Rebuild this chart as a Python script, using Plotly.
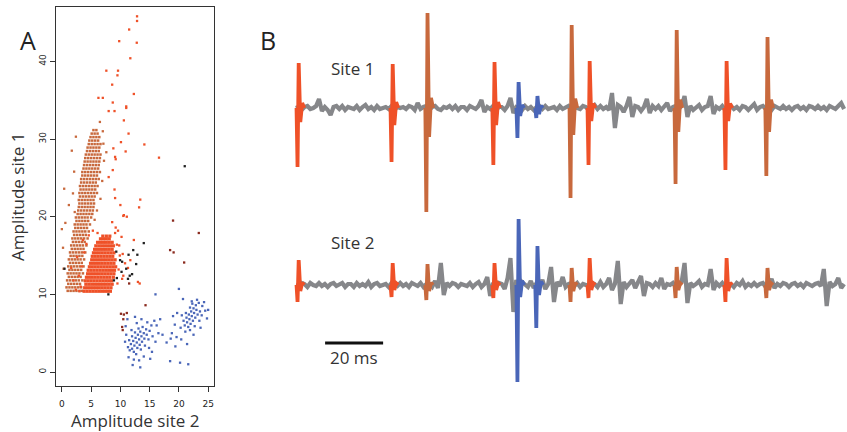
import plotly.graph_objects as go

# ---------------- Panel A data (amplitudes) ----------------
# dense orange-red cluster, row by row (y level -> x values)
red_rows_y = [10.4, 10.85, 11.3, 11.75, 12.2, 12.65, 13.1, 13.55, 14.0, 14.45,
              14.9, 15.35, 15.8, 16.25, 16.7, 17.15, 17.5]
red_rows_x = [
    [3.8, 4.3, 4.8, 5.3, 5.8, 6.3, 6.8, 7.3, 7.8, 8.3],
    [3.9, 4.4, 4.9, 5.4, 5.9, 6.4, 6.9, 7.4, 7.9, 8.4],
    [4.1, 4.6, 5.1, 5.6, 6.1, 6.6, 7.1, 7.6, 8.1, 8.6],
    [4.0, 4.5, 5.0, 5.5, 6.0, 6.5, 7.0, 7.5, 8.0, 8.5],
    [4.2, 4.7, 5.2, 5.7, 6.2, 6.7, 7.2, 7.7, 8.2, 8.8],
    [4.4, 4.9, 5.4, 5.9, 6.4, 6.9, 7.4, 7.9, 8.4, 8.9],
    [4.5, 5.0, 5.5, 6.0, 6.5, 7.0, 7.5, 8.0, 8.5, 9.0],
    [4.7, 5.2, 5.7, 6.2, 6.7, 7.2, 7.7, 8.2, 8.7, 9.2],
    [4.9, 5.4, 5.9, 6.4, 6.9, 7.4, 7.9, 8.4, 8.9],
    [5.1, 5.6, 6.1, 6.6, 7.1, 7.6, 8.1, 8.6, 9.1],
    [5.2, 5.7, 6.2, 6.7, 7.2, 7.7, 8.2, 8.7],
    [5.4, 5.9, 6.4, 6.9, 7.4, 7.9, 8.4, 8.9],
    [5.6, 6.1, 6.6, 7.1, 7.6, 8.1, 8.6],
    [5.8, 6.3, 6.8, 7.3, 7.8, 8.3, 8.8],
    [6.1, 6.6, 7.1, 7.6, 8.1, 8.6],
    [6.6, 7.1, 7.6, 8.1],
    [7.0, 7.6, 8.2],
]
red_sparse_x = [3.2, 2.9, 3.4, 2.6, 3.8, 4.2, 4.6, 5.3, 6.1, 9.4, 9.7, 9.5, 9.9, 10.3, 9.1,
                3.0, 2.4, 2.0, 1.6, 3.6, 10.4, 10.8, 11.3, 10.5, 11.7, 13.3, 13.0, 9.2, 8.6,
                10.6, 11.1, 10.5, 9.0, 9.1, 13.4, 13.2, 8.0, 8.7, 9.1, 9.2, 8.8, 10.9, 10.1,
                14.1, 16.6, 11.4, 10.6, 8.0, 9.0, 11.0, 11.0, 8.7, 12.3, 6.25, 7.0, 8.6, 7.6,
                9.6, 9.5, 11.7, 9.8, 12.8, 11.5, 12.85, 12.85, 10.0, 12.3, 9.8, 10.2, 9.6]
red_sparse_y = [11.0, 12.4, 13.6, 14.8, 15.4, 16.5, 17.6, 18.2, 17.9, 16.4, 13.2, 11.4, 15.0, 12.0, 17.9,
                10.4, 10.6, 11.8, 13.4, 17.0, 15.2, 14.0, 13.4, 12.4, 14.4, 11.4, 11.6, 18.6, 19.3,
                20.2, 20.0, 20.1, 23.5, 22.4, 22.2, 21.2, 25.1, 26.0, 27.7, 27.4, 28.8, 28.4, 29.6,
                29.3, 27.6, 30.7, 32.4, 33.6, 33.6, 34.2, 34.0, 34.7, 35.8, 35.3, 35.3, 37.0, 38.8,
                38.8, 38.2, 40.4, 42.6, 42.4, 44.1, 45.8, 45.2, 21.5, 17.0, 16.3, 17.4, 18.2]

# brown elongated cluster, row by row
brown_rows_y = [10.45, 10.9, 11.35, 11.8, 12.25, 12.7, 13.15, 13.6, 14.05, 14.5, 14.95, 15.4,
                15.85, 16.3, 16.75, 17.2, 17.65, 18.1, 18.55, 19.0, 19.45, 19.9, 20.35, 20.8,
                21.25, 21.7, 22.15, 22.6, 23.05, 23.5, 23.95, 24.4, 24.85, 25.3, 25.75, 26.2,
                26.65, 27.1, 27.55, 28.0, 28.45, 28.9, 29.35, 29.8, 30.25, 30.7, 31.15]
brown_rows_x = [
    [1.0, 1.5, 2.0, 2.5, 3.0, 3.4], [0.8, 1.3, 1.8, 2.3, 2.8, 3.3], [1.1, 1.6, 2.1, 2.6, 3.1],
    [0.9, 1.4, 1.9, 2.4, 2.9, 3.5], [1.2, 1.7, 2.2, 2.7, 3.2], [1.0, 1.5, 2.0, 2.5, 3.0, 3.6],
    [1.3, 1.8, 2.3, 2.8, 3.3], [1.1, 1.6, 2.1, 2.6, 3.1, 3.7], [1.4, 1.9, 2.4, 2.9, 3.4],
    [1.2, 1.7, 2.2, 2.7, 3.2, 3.8], [1.5, 2.0, 2.5, 3.0, 3.5], [1.4, 1.9, 2.4, 2.9, 3.4, 4.0],
    [1.7, 2.2, 2.7, 3.2, 3.7], [1.6, 2.1, 2.6, 3.1, 3.6, 4.2], [1.9, 2.4, 2.9, 3.4, 3.9],
    [1.8, 2.3, 2.8, 3.3, 3.8, 4.4], [2.1, 2.6, 3.1, 3.6, 4.1], [2.0, 2.5, 3.0, 3.5, 4.0, 4.6],
    [2.3, 2.8, 3.3, 3.8, 4.3], [2.2, 2.7, 3.2, 3.7, 4.2, 4.8], [2.5, 3.0, 3.5, 4.0, 4.5],
    [2.4, 2.9, 3.4, 3.9, 4.4, 5.0], [2.7, 3.2, 3.7, 4.2, 4.7, 5.2], [2.8, 3.3, 3.8, 4.3, 4.8, 5.3],
    [2.9, 3.4, 3.9, 4.4, 4.9, 5.4], [3.0, 3.5, 4.0, 4.5, 5.0, 5.5], [2.9, 3.4, 3.9, 4.4, 4.9, 5.4],
    [3.1, 3.6, 4.1, 4.6, 5.1, 5.6], [3.0, 3.5, 4.0, 4.5, 5.0, 5.5, 6.0], [3.2, 3.7, 4.2, 4.7, 5.2, 5.7],
    [3.1, 3.6, 4.1, 4.6, 5.1, 5.6, 6.1], [3.3, 3.8, 4.3, 4.8, 5.3, 5.8],
    [3.3, 3.8, 4.3, 4.8, 5.3, 5.8, 6.3], [3.5, 4.0, 4.5, 5.0, 5.5, 6.0],
    [3.5, 4.0, 4.5, 5.0, 5.5, 6.0, 6.5], [3.7, 4.2, 4.7, 5.2, 5.7, 6.2], [3.8, 4.3, 4.8, 5.3, 5.8, 6.3],
    [3.9, 4.4, 4.9, 5.4, 5.9, 6.4], [4.0, 4.5, 5.0, 5.5, 6.0, 6.5], [4.1, 4.6, 5.1, 5.6, 6.1, 6.6],
    [4.3, 4.8, 5.3, 5.8, 6.3], [4.4, 4.9, 5.4, 5.9, 6.4], [4.6, 5.1, 5.6, 6.1, 6.6],
    [4.7, 5.2, 5.7, 6.2], [4.9, 5.4, 5.9, 6.4], [5.1, 5.6, 6.1], [5.4, 5.9],
]
brown_sparse_x = [0.4, 1.7, 1.2, 2.1, 0.6, 7.0, 7.1, 7.2, 6.9, 6.6, 0.0, 0.3, 6.5, 2.4, 7.6, 1.9,
                  0.2, 5.6, 6.0, 2.2]
brown_sparse_y = [23.6, 28.5, 21.5, 25.8, 19.2, 31.0, 29.4, 27.2, 24.6, 22.3, 18.4, 13.3, 32.2,
                  30.3, 28.3, 23.0, 16.0, 19.6, 20.8, 20.6]

blue_x = [12.0, 12.4, 12.8, 13.2, 13.6, 14.0, 12.2, 12.6, 13.0, 13.4, 11.8, 12.9, 13.3, 13.7, 14.1,
          14.5, 11.6, 12.3, 12.7, 11.3, 11.5, 12.0, 12.5, 13.1, 13.8, 14.4, 15.0, 14.8, 15.3, 15.8,
          16.2, 15.5, 13.5, 14.2, 11.0, 10.8, 11.9, 12.8, 13.6, 14.6, 16.5, 14.0, 15.1, 13.2, 12.3,
          12.1, 13.4, 11.4, 16.8, 15.4, 10.9, 11.2, 12.5, 14.9, 16.0, 17.2,
          21.0, 21.4, 21.8, 22.2, 22.6, 23.0, 21.3, 21.7, 22.1, 22.5, 22.9, 21.6, 22.0, 22.4, 22.8,
          23.2, 23.6, 20.8, 21.2, 21.9, 22.3, 23.4, 24.0, 23.9, 23.5, 22.7, 21.9, 21.1, 20.5, 20.3,
          22.2, 23.1, 24.3, 19.7, 19.3, 19.0, 18.8, 19.6, 20.4, 21.4, 18.6, 20.7, 24.8, 25.0, 18.5,
          20.2, 21.6, 19.4, 17.9, 20.0, 23.7, 22.5, 24.5, 16.0]
blue_y = [3.0, 3.4, 3.8, 4.2, 4.6, 5.0, 4.0, 4.4, 4.8, 5.2, 3.6, 3.1, 3.5, 3.9, 4.3,
          4.8, 2.8, 2.6, 2.3, 3.2, 4.1, 4.6, 5.1, 5.6, 5.8, 5.5, 5.3, 4.2, 6.0, 6.6,
          6.0, 4.6, 2.9, 3.4, 4.8, 3.9, 5.4, 6.3, 6.8, 6.4, 5.0, 2.0, 1.7, 1.5, 1.6,
          0.9, 0.6, 1.9, 6.8, 2.6, 5.9, 6.8, 7.1, 3.1, 3.9, 4.8,
          6.0, 6.4, 6.8, 7.2, 7.6, 8.0, 7.0, 7.4, 7.8, 8.2, 8.6, 5.8, 6.2, 6.6, 7.0,
          7.4, 7.8, 6.6, 7.6, 8.3, 8.8, 8.9, 8.5, 7.3, 6.6, 5.9, 5.4, 5.2, 7.3, 5.7,
          9.1, 9.3, 9.0, 7.6, 6.1, 7.2, 5.0, 4.5, 4.2, 3.6, 4.3, 9.4, 6.9, 8.0, 1.4,
          1.2, 1.0, 3.3, 3.8, 10.7, 5.7, 4.8, 7.9, 10.0]

darkred_x = [10.1, 10.6, 10.5, 10.3, 10.4, 14.3, 11.5, 18.5, 19.1, 20.9, 19.0, 23.4, 11.1]
darkred_y = [7.5, 7.4, 6.8, 5.8, 5.4, 8.6, 11.4, 15.7, 15.4, 14.1, 19.5, 17.9, 7.6]

black_x = [14.0, 12.2, 11.4, 12.9, 10.3, 11.0, 11.6, 12.0, 10.2, 9.4, 9.3, 9.95, 7.95, 0.45,
           21.0, 8.9, 11.3, 12.7]
black_y = [16.6, 15.7, 15.1, 15.1, 14.2, 13.3, 12.4, 12.6, 12.9, 12.1, 15.5, 14.4, 10.0, 13.3,
           26.5, 11.8, 12.0, 13.9]

x_ticks_A = [0, 5, 10, 15, 20, 25]
y_ticks_A = [0, 10, 20, 30, 40]

# ---------------- Panel B data (traces, ms) ----------------
noise_t0 = 2  # first noise sample (ms), 1 ms step
site1_noise = [
    0, 1, -2, 1, 2, -1, 0, 2, 9, -3, 1, -2, -7, 1, 2, -1, 2, -2, 1, 0,
    -1, 2, -2, 1, 3, -1, 1, -2, 2, -1, 0, 1, -1, 2, -2, 1, 0, 1, -1, 2,
    1, -2, 5, -1, 1, 2, -2, 1, 2, -1, -2, 1, 0, 2, -1, 2, -2, 1, 1, -2,
    2, 0, -1, 2, 8, -4, 1, -1, 2, -2, 1, 1, -2, 2, 10, -5, 1, 0, -2, 2,
    -1, 1, -2, 1, 2, -1, 2, -1, 0, 1, -2, 2, -1, 1, 2, -2, 1, 0, -1, 2,
    1, -2, 1, 3, -1, 2, -1, 1, -2, 15, -20, 3, 1, -4, 2, 11, -9, 2, 1, -3,
    1, 9, -5, 2, -1, 2, -2, 1, 5, -3, 1, 2, -1, 2, 12, -9, 2, -2, 1, 3,
    -2, 1, 2, 12, -6, 1, -1, 2, -2, 1, 2, -1, 1, -2, 2, 1, -2, 1, 4, -2,
    1, 2, -1, 1, -2, 2, 0, -1, 2, -1, 1, -2, 1, 2, -1, 1, -2, 2, 1, -1,
    2, -1, 1, -2, 2, 0, -1, 2, 5, -1]
site2_noise = [
    0, -1, 2, 1, -2, 2, 0, -1, 2, -1, 1, -2, 1, 2, -1, 0, 2, -2, 1, 1,
    -2, 2, -1, 1, -1, 3, -2, 1, 2, -1, 0, 1, -2, 2, 1, -1, 2, -1, 1, -2,
    2, 0, -1, 2, -2, 1, 1, -2, 4, -3, 22, -10, 2, -1, 2, 1, -2, 1, 0, -1,
    2, -2, 1, 3, -2, 1, 8, -11, 2, -1, 2, 1, -4, 7, 27, -27, 5, -7, 3, 1,
    -2, 4, -3, 2, -1, 5, -4, 1, 18, -17, 3, -1, 8, -2, 1, 2, -1, 2, -2, 1,
    0, -1, 2, 1, -2, 3, -2, 1, 7, -5, 1, 24, -19, 3, -2, 1, 5, -3, 2, 9,
    -11, 2, 1, -2, 2, -1, 7, -4, 1, 0, 2, -2, 1, 3, 22, -18, 2, -1, 1, 4,
    -2, 1, 0, 16, -5, 2, -1, 2, -2, 1, 1, -2, 2, 0, 4, -2, 1, -1, 2, -1,
    1, 2, -2, 1, 6, -3, 1, -1, 2, 1, -2, 1, 2, -1, 1, -2, 2, 0, -1, 1,
    2, -1, 16, -21, 3, -1, 1, 7, -3, 1]

spike_t = [2.8, 35.2, 47.2, 70.3, 78.6, 85.1, 96.9, 103.1, 133.1, 150.3, 164.4]
spike_unit = ["red", "red", "brown", "red", "blue", "blue", "brown", "red", "brown", "red", "brown"]
site1_peak = [45, 44, 95, 46, 26, 12, 83, 47, 78, 47, 71]
site1_trough = [-59, -54, -104, -57, -30, -10, -90, -57, -76, -62, -68]
site1_dip = [-14, -17, -29, -17, -8, -6, -27, -13, -24, -13, -24]
site2_peak = [25, 22, 21, 22, 66, 39, 17, 27, 18, 27, 17]
site2_trough = [-17, -12, -15, -13, -97, -43, -17, -13, -13, -17, -13]
site2_dip = [-6, -5, -6, -5, -12, -10, -6, -5, -5, -6, -5]

# ---------------- styles / layout constants ----------------
W, H = 847, 432
COL = {"red": "#EF5128", "brown": "#C8693D", "blue": "#4A66B8",
       "darkred": "#8A2A1E", "black": "#222222", "gray": "#86878A"}
SITE_BASE = [-108, -285]   # vertical placement of the two sites
WAVE_DT = [-0.55, -0.2, 0.2, 0.75, 1.4, 2.1]


def px(x):
    return x / W


def py(y):
    return 1 - y / H


def flat(rows_y, rows_x):
    xs, ys = [], []
    for yv, row in zip(rows_y, rows_x):
        for xv in row:
            xs.append(xv)
            ys.append(yv)
    return xs, ys


fig = go.Figure()

bx, by = flat(brown_rows_y, brown_rows_x)
rx, ry = flat(red_rows_y, red_rows_x)


def sc(x, y, color, size):
    fig.add_trace(go.Scatter(x=x, y=y, mode="markers", xaxis="x", yaxis="y",
                             marker=dict(color=color, size=size, symbol="square", line=dict(width=0)),
                             showlegend=False, hoverinfo="skip"))


sc(bx, by, COL["brown"], 2.5)
sc(brown_sparse_x, brown_sparse_y, COL["brown"], 2.3)
sc(rx, ry, COL["red"], 3.2)
sc(red_sparse_x, red_sparse_y, COL["red"], 2.3)
sc(blue_x, blue_y, COL["blue"], 2.3)
sc(darkred_x, darkred_y, COL["darkred"], 2.3)
sc(black_x, black_y, COL["black"], 2.3)

# gray noise traces
for base, noise in zip(SITE_BASE, [site1_noise, site2_noise]):
    t = [noise_t0 + i for i in range(len(noise))]
    fig.add_trace(go.Scatter(x=t, y=[base + v for v in noise], mode="lines", xaxis="x2", yaxis="y2",
                             line=dict(color=COL["gray"], width=4.2), showlegend=False, hoverinfo="skip"))

# colored spikes
for base, peaks, troughs, dips in [(SITE_BASE[0], site1_peak, site1_trough, site1_dip),
                                   (SITE_BASE[1], site2_peak, site2_trough, site2_dip)]:
    for unit in ["red", "brown", "blue"]:
        xs, ys = [], []
        for t0, u, pk, tr, dp in zip(spike_t, spike_unit, peaks, troughs, dips):
            if u != unit:
                continue
            vals = [0, tr, pk, dp, -dp * 0.35, 0]
            xs += [t0 + d for d in WAVE_DT] + [None]
            ys += [base + v for v in vals] + [None]
        fig.add_trace(go.Scatter(x=xs, y=ys, mode="lines", xaxis="x2", yaxis="y2",
                                 line=dict(color=COL[unit], width=3.8), showlegend=False,
                                 hoverinfo="skip", connectgaps=False))

tickfont = dict(family="DejaVu Sans", size=9, color="#222")
fig.update_layout(
    width=W, height=H, margin=dict(l=0, r=0, t=0, b=0),
    paper_bgcolor="white", plot_bgcolor="white",
    xaxis=dict(domain=[px(56), px(214)], range=[-1, 26], tickvals=x_ticks_A, ticks="outside",
               ticklen=5, tickcolor="#333", showline=True, linecolor="#333", linewidth=1.2,
               mirror=True, showgrid=False, zeroline=False, tickfont=tickfont, anchor="y",
               ticklabelstandoff=4),
    yaxis=dict(domain=[py(386), py(7)], range=[-1.8, 47], tickvals=y_ticks_A, ticks="outside",
               ticklen=5, tickcolor="#333", showline=True, linecolor="#333", linewidth=1.2,
               mirror=True, showgrid=False, zeroline=False, tickfont=tickfont, tickangle=-90,
               anchor="x"),
    xaxis2=dict(domain=[px(290), 1], range=[0, 192], visible=False, anchor="y2"),
    yaxis2=dict(domain=[0, 1], range=[-432, 0], visible=False, anchor="x2"),
)

txt = dict(family="Open Sans", color="#333")
ann = [
    dict(x=px(135), y=py(420), text="Amplitude site 2", font=dict(size=17, **txt)),
    dict(x=px(17), y=py(197), text="Amplitude site 1", textangle=-90, font=dict(size=17, **txt)),
    dict(x=px(28), y=py(40), text="A", font=dict(size=25, family="Open Sans", color="#222")),
    dict(x=px(268), y=py(40), text="B", font=dict(size=25, family="Open Sans", color="#222")),
]
for a in ann:
    a.update(xref="paper", yref="paper", showarrow=False, xanchor="center", yanchor="middle")
    fig.add_annotation(**a)

for label, yb in [("Site 1", -68), ("Site 2", -242)]:
    fig.add_annotation(x=21.7, y=yb, xref="x2", yref="y2", text=label, showarrow=False,
                       font=dict(size=17, **txt), xanchor="center", yanchor="middle")

# 20 ms scale bar
bar_start, bar_len = 12.1, 20
fig.add_shape(type="line", xref="x2", yref="y2", x0=bar_start, x1=bar_start + bar_len,
              y0=-343, y1=-343, line=dict(color="#111", width=3))
fig.add_annotation(x=bar_start + bar_len / 2, y=-357, xref="x2", yref="y2", text="20 ms",
                   showarrow=False, font=dict(size=17, **txt), xanchor="center", yanchor="middle")

fig.write_html("out.html")
